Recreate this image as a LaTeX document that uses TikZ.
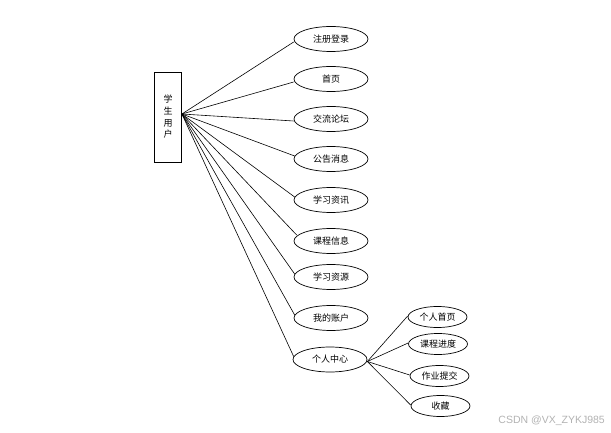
\documentclass[tikz,border=0pt]{standalone}
\usepackage{fontspec}
\setmainfont{Noto Sans CJK SC}
\newfontfamily\wmfont{Liberation Sans}
\usetikzlibrary{shapes.geometric}
\begin{document}
\begin{tikzpicture}[x=1pt,y=-1pt,
  conn/.style={draw=black,line width=0.6pt},
  bigov/.style={ellipse,draw=black,line width=0.7pt,minimum width=74pt,minimum height=25pt,inner sep=0pt,font=\fontsize{9}{10}\selectfont},
  smallov/.style={ellipse,draw=black,line width=0.7pt,minimum width=59pt,minimum height=21pt,inner sep=0pt,font=\fontsize{9}{10}\selectfont},
  userbox/.style={rectangle,draw=black,line width=0.8pt,minimum width=27pt,minimum height=90pt,inner sep=0pt,font=\fontsize{9}{11.7}\selectfont,align=center}]
\useasboundingbox (0,0) rectangle (611,433);
\node[userbox] (user) at (168,117) {学\\生\\用\\户};
\coordinate (hub) at ([yshift=3pt]user.east);
\node[bigov] (a1) at (331,39) {注册登录};
\node[bigov] (a2) at (331,79) {首页};
\node[bigov] (a3) at (331,119) {交流论坛};
\node[bigov] (a4) at (331,159) {公告消息};
\node[bigov] (a5) at (331,200) {学习资讯};
\node[bigov] (a6) at (331,241) {课程信息};
\node[bigov] (a7) at (331,277) {学习资源};
\node[bigov] (a8) at (331,318) {我的账户};
\node[bigov] (a9) at (330,359.5) {个人中心};
\node[smallov] (b1) at (437.5,317) {个人首页};
\node[smallov] (b2) at (438,344) {课程进度};
\node[smallov] (b3) at (439.5,376) {作业提交};
\node[smallov] (b4) at (440.5,406) {收藏};
\draw[conn] (hub) -- ([yshift=-3pt]a1.west);
\draw[conn] (hub) -- ([yshift=-3pt]a2.west);
\draw[conn] (hub) -- ([yshift=-2pt]a3.west);
\foreach \n in {a4,a5,a7,a8,a9} \draw[conn] (hub) -- ([xshift=1pt,yshift=3pt]\n.west);
\draw[conn] (hub) -- ([xshift=3pt,yshift=6pt]a6.west);
\coordinate (hub2) at ([yshift=-2pt]a9.east);
\foreach \n in {b1,b2,b3,b4} \draw[conn] (hub2) -- ([yshift=1pt]\n.west);
\node[anchor=east,text=black!30,font=\wmfont\fontsize{10.5}{12}\selectfont,inner sep=0pt] (wm) at (605,421) {CSDN @VX\_ZYKJ985};
\end{tikzpicture}
\end{document}
